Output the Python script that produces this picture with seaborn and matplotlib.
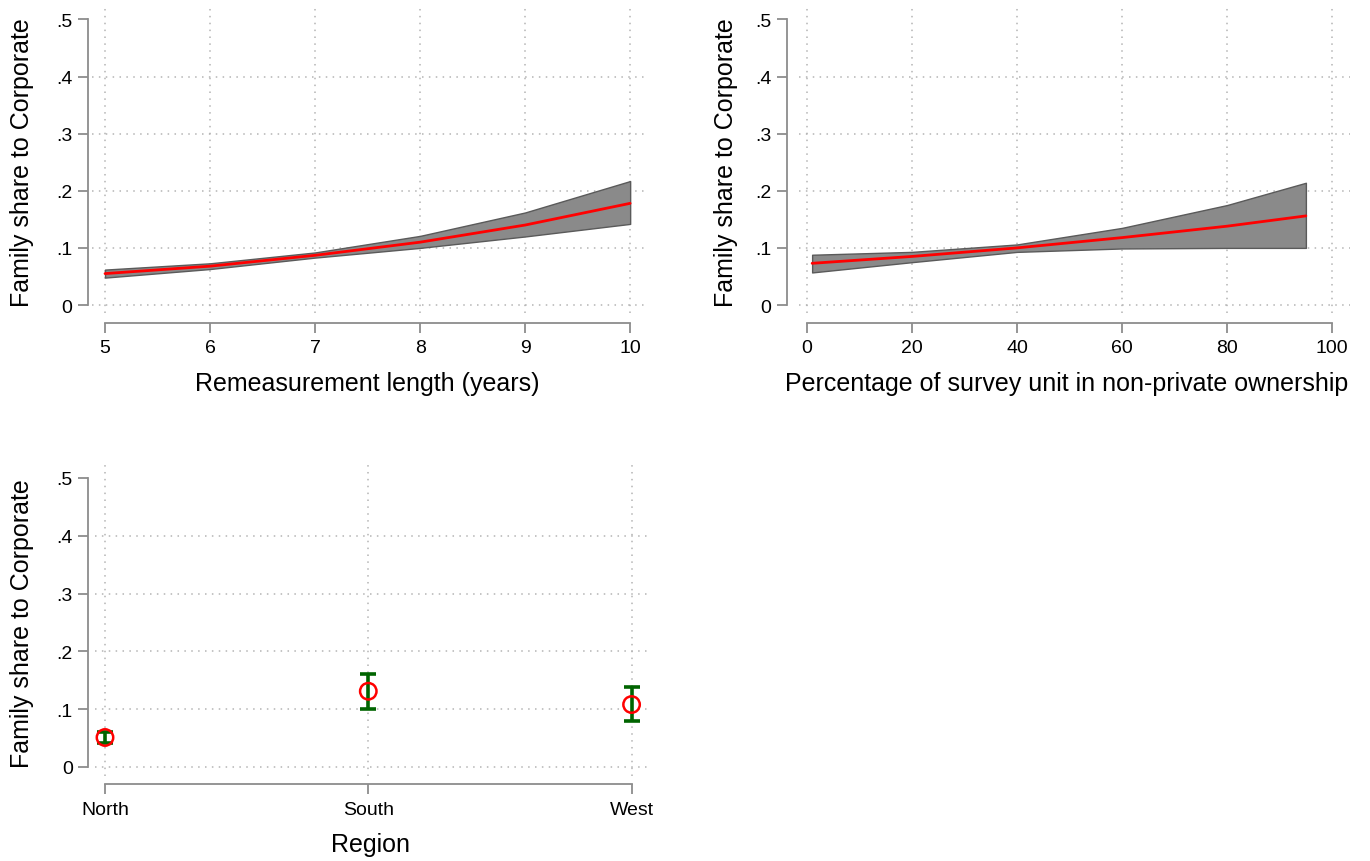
import numpy as np
import pandas as pd
import seaborn as sns
import matplotlib.pyplot as plt
from matplotlib.ticker import FuncFormatter

# ---- data ----
remeas_x = [5, 6, 7, 8, 9, 10]
remeas_fit = [0.055, 0.068, 0.087, 0.110, 0.140, 0.178]
remeas_lo = [0.048, 0.063, 0.083, 0.100, 0.120, 0.142]
remeas_hi = [0.062, 0.073, 0.092, 0.121, 0.162, 0.217]

own_x = [1, 20, 40, 60, 80, 95]
own_fit = [0.073, 0.085, 0.100, 0.118, 0.138, 0.156]
own_lo = [0.057, 0.075, 0.093, 0.099, 0.100, 0.100]
own_hi = [0.088, 0.093, 0.106, 0.135, 0.175, 0.214]

regions = ["North", "South", "West"]
region_est = [0.051, 0.131, 0.108]
region_lo = [0.042, 0.101, 0.079]
region_hi = [0.061, 0.161, 0.138]

ylabel = "Family share to Corporate"
yticks = [0, 0.1, 0.2, 0.3, 0.4, 0.5]

sns.set_style("white")
plt.rcParams["font.family"] = ["Liberation Sans", "DejaVu Sans"]
plt.rcParams["text.color"] = "black"
plt.rcParams["axes.labelcolor"] = "black"

SPINE = "#8c8c8c"
GRID = "#b4b4b4"
RED = "#ff0000"
GREEN = "#006400"

fig = plt.figure(figsize=(13.7, 8.62), dpi=100)
W, H = 1370, 862


def px_axes(left, top, right, bottom):
    return fig.add_axes([left / W, (H - bottom) / H, (right - left) / W, (bottom - top) / H])


def style(ax, xbounds, xticks, xlabel, left_off, bottom_off, ylab_x, xlab_x, xlab_y):
    ax.set_yticks(yticks)
    ax.yaxis.set_major_formatter(FuncFormatter(lambda v, p: "0" if v == 0 else f"{v:.1f}".lstrip("0")))
    ax.set_xticks(xticks)
    for s in ["top", "right"]:
        ax.spines[s].set_visible(False)
    ax.spines["left"].set_position(("outward", left_off))
    ax.spines["bottom"].set_position(("outward", bottom_off))
    ax.spines["left"].set_bounds(0, 0.5)
    ax.spines["bottom"].set_bounds(*xbounds)
    for s in ["left", "bottom"]:
        ax.spines[s].set_color(SPINE)
        ax.spines[s].set_linewidth(1.3)
    ax.tick_params(axis="both", which="major", direction="out", length=7, width=1.3,
                   color=SPINE, labelcolor="black", left=True, bottom=True, labelsize=14)
    ax.tick_params(axis="y", pad=4)
    ax.tick_params(axis="x", pad=5)
    ax.grid(True, linestyle=(0, (1, 3.5)), color=GRID, linewidth=1.1)
    ax.yaxis.get_gridlines()[-1].set_visible(False)
    ax.set_axisbelow(True)
    ax.set_ylabel(ylabel, fontsize=18)
    ax.set_xlabel(xlabel, fontsize=18)
    ax.yaxis.label.set_va("center")
    ax.xaxis.label.set_va("center")
    ax.yaxis.set_label_coords(ylab_x, 0.49)
    ax.xaxis.set_label_coords(xlab_x, xlab_y)


# ---- top left: remeasurement length ----
ax1 = px_axes(92, 5, 648, 314)
ax1.fill_between(remeas_x, remeas_lo, remeas_hi, color="#8a8a8a", edgecolor="#5a5a5a", linewidth=1.0)
sns.lineplot(x=remeas_x, y=remeas_fit, ax=ax1, color=RED, linewidth=2.0)
ax1.set_xlim(4.876, 10.17)
ax1.set_ylim(-0.014, 0.527)
style(ax1, (5, 10), [5, 6, 7, 8, 9, 10], "Remeasurement length (years)",
      3, 7, -0.126, 0.4955, -0.2265)

# ---- top right: non-private ownership ----
ax2 = px_axes(799, 5, 1350, 314)
ax2.fill_between(own_x, own_lo, own_hi, color="#8a8a8a", edgecolor="#5a5a5a", linewidth=1.0)
sns.lineplot(x=own_x, y=own_fit, ax=ax2, color=RED, linewidth=2.0)
ax2.set_xlim(-1.5, 103.4)
ax2.set_ylim(-0.014, 0.527)
style(ax2, (0, 100), [0, 20, 40, 60, 80, 100], "Percentage of survey unit in non-private ownership",
      9, 7, -0.132, 0.486, -0.2265)

# ---- bottom left: region ----
ax3 = px_axes(95, 465, 650, 777)
reg_df = pd.DataFrame({"Region": regions, "est": region_est})
err = [np.array(region_est) - np.array(region_lo), np.array(region_hi) - np.array(region_est)]
ax3.errorbar(regions, region_est, yerr=err, fmt="none", ecolor=GREEN, elinewidth=2.6,
             capsize=6, capthick=2.6, zorder=3)
sns.scatterplot(data=reg_df, x="Region", y="est", ax=ax3, marker="o", s=140,
                facecolor="none", edgecolor=RED, linewidth=1.8, zorder=4)
ax3.set_xlim(-0.038, 2.07)
ax3.set_ylim(-0.0156, 0.524)
style(ax3, (0, 2), [0, 1, 2], "Region", 5, 6, -0.1315, 0.4955, -0.218)
ax3.set_xticklabels(regions)

fig.savefig("out.png", dpi=100, facecolor="white")
